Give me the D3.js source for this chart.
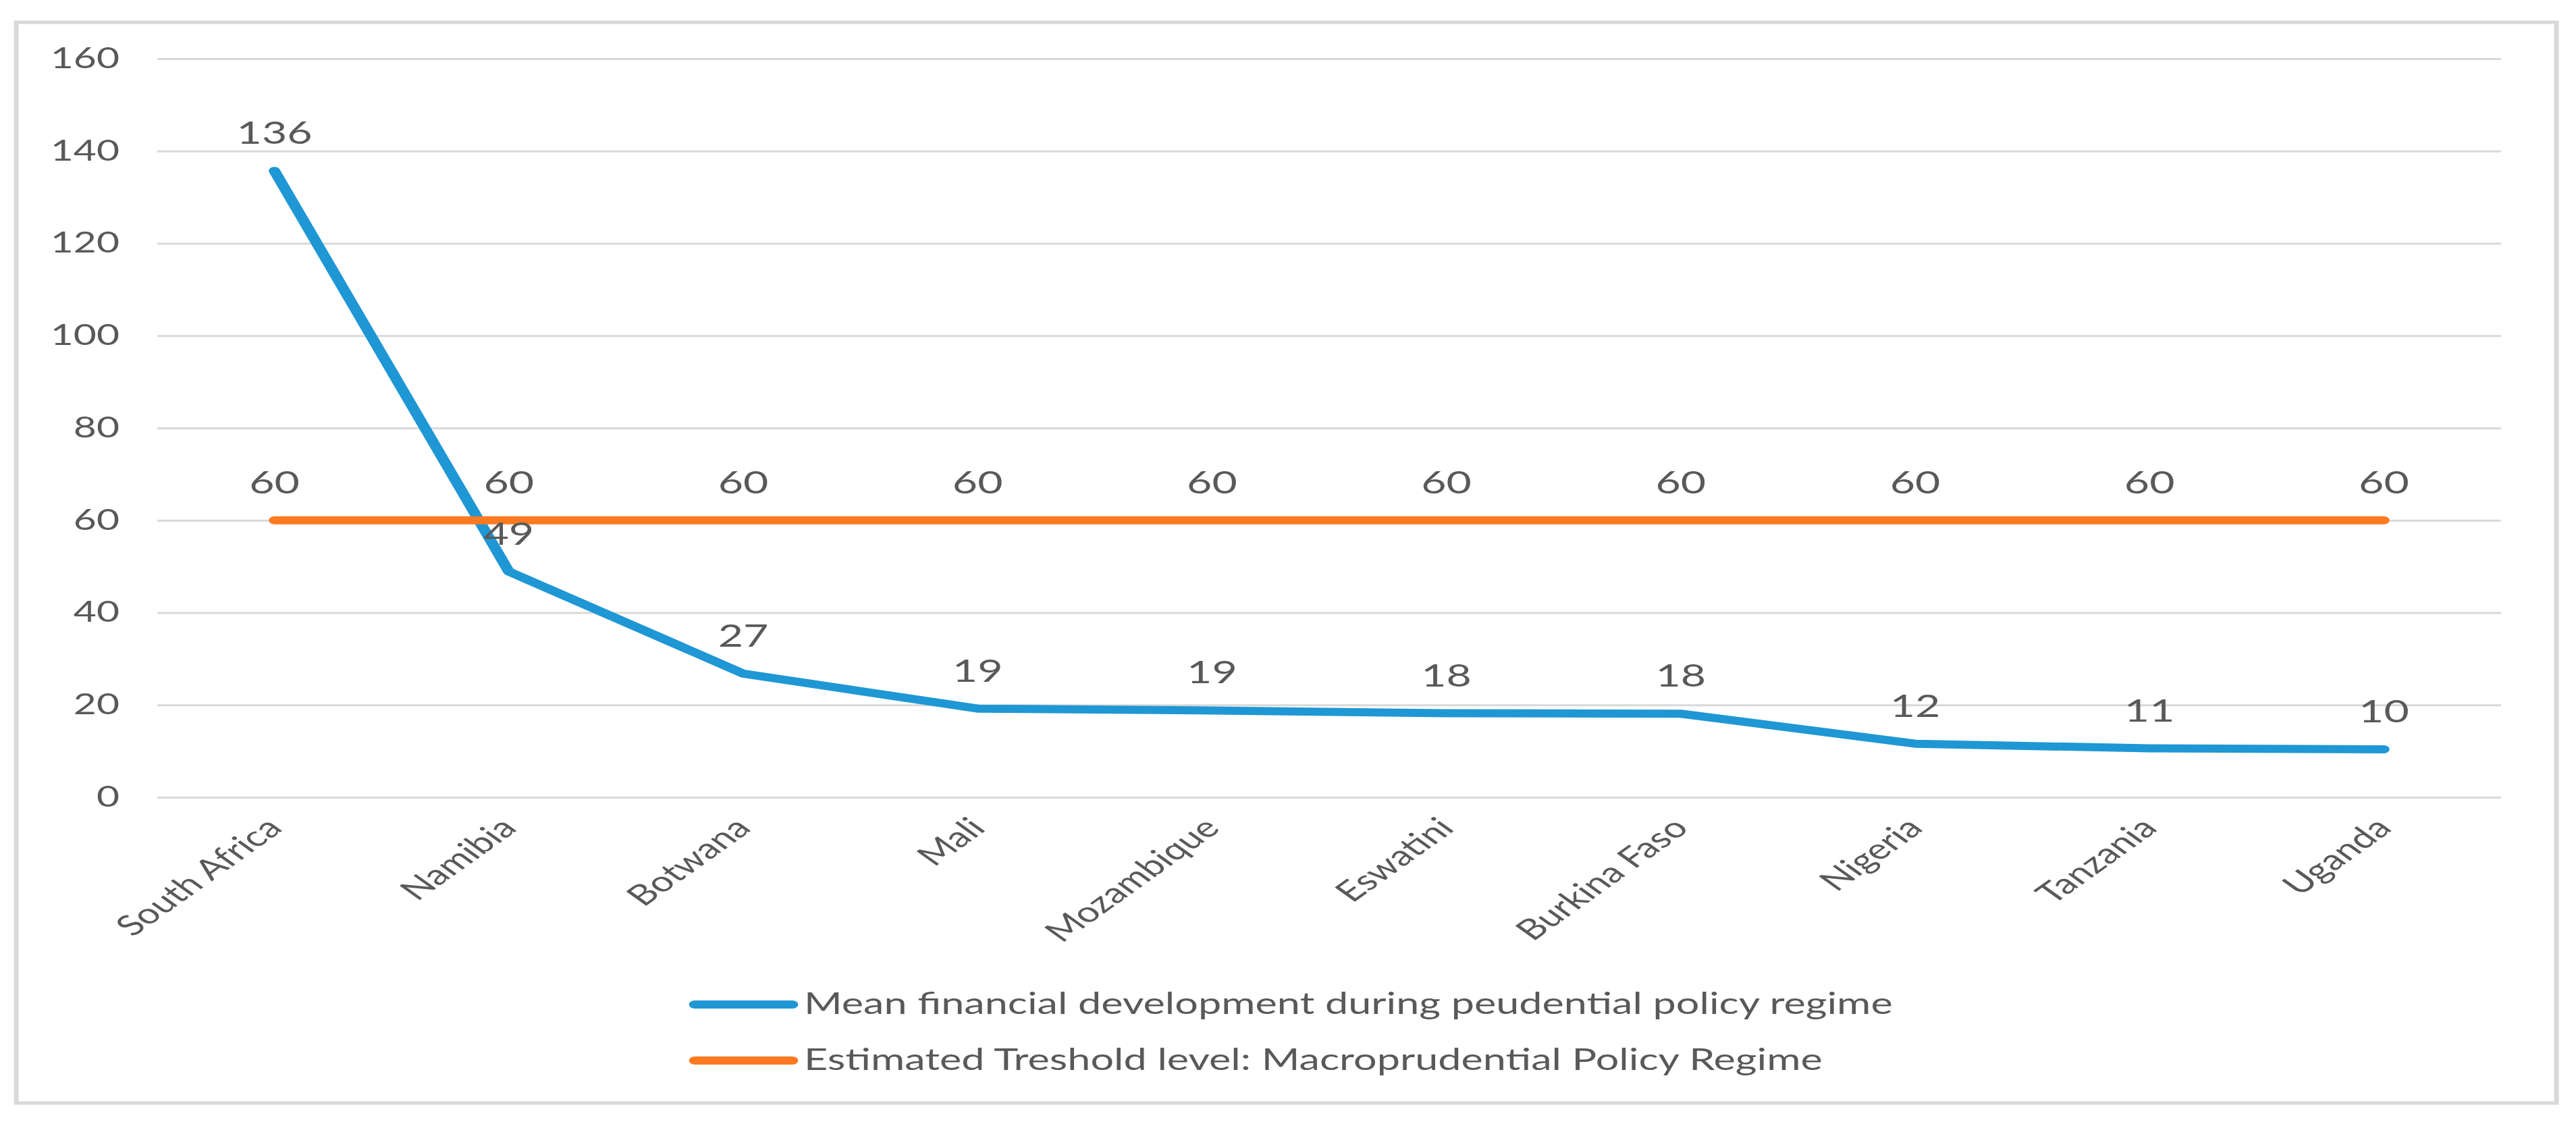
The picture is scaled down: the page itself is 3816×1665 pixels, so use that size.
<!DOCTYPE html>
<html>
<head>
<meta charset="utf-8">
<script src="https://cdn.jsdelivr.net/npm/d3@7"></script>
<style>
  body { margin: 0; background: #ffffff; }
  svg { display: block; }
  text { font-family: Lato, "Open Sans", sans-serif; fill: #595959; }
</style>
</head>
<body>
<svg id="chart"></svg>
<script>
//the reference picture is stretched sideways, so draw narrow and scale the whole group
let SX = 1.4
let outerWidth = 3816 / SX
let outerHeight = 1665

//data
let countries = ['South Africa', 'Namibia', 'Botwana', 'Mali', 'Mozambique', 'Eswatini', 'Burkina Faso', 'Nigeria', 'Tanzania', 'Uganda']
let meanFD = [135.7, 48.9, 26.8, 19.2, 18.8, 18.2, 18.1, 11.6, 10.6, 10.4]
let threshold = [60, 60, 60, 60, 60, 60, 60, 60, 60, 60]
let yTicks = [0, 20, 40, 60, 80, 100, 120, 140, 160]
let seriesNames = ['Mean financial development during peudential policy regime', 'Estimated Treshold level: Macroprudential Policy Regime']
let seriesColors = ['#1f97d4', '#fd7a21']

let margins = { top: 87, bottom: 1665 - 1181, left: 233 / SX, right: outerWidth - 3705 / SX }
let innerWidth = outerWidth - margins.left - margins.right
let innerHeight = outerHeight - margins.top - margins.bottom

let svg = d3.select('svg#chart')
  .attr('width', 3816)
  .attr('height', outerHeight)

let root = svg.append('g')
  .attr('transform', `scale(${SX},1)`)

//chart border
root.append('rect')
  .attr('x', 24 / SX)
  .attr('y', 33)
  .attr('width', (3787 - 24) / SX)
  .attr('height', 1634 - 33)
  .attr('fill', 'white')
  .attr('stroke', '#d9d9d9')
  .attr('stroke-width', 5)

let inner = root.append('g')
  .attr('transform', 'translate(' + margins.left + ',' + margins.top + ')')

let xScale = d3.scaleBand()
  .domain(countries)
  .range([0, innerWidth])

let yScale = d3.scaleLinear()
  .domain([0, 160])
  .range([innerHeight, 0])

//gridlines + y tick labels
let yAxis = d3.axisLeft(yScale)
  .tickValues(yTicks)
  .tickSize(-innerWidth)
  .tickPadding(40)

let yG = inner.append('g').attr('class', 'y axis').call(yAxis)
yG.select('.domain').remove()
yG.selectAll('line').attr('stroke', '#d9d9d9').attr('stroke-width', 3)
yG.selectAll('text')
  .attr('font-size', 42)
  .attr('fill', '#595959')
  .style('font-family', 'Lato, "Open Sans", sans-serif')

//category labels
inner.selectAll('text.cat')
  .data(countries)
  .enter()
  .append('text')
  .attr('class', 'cat')
  .attr('text-anchor', 'end')
  .attr('font-size', 42)
  .attr('transform', d => `translate(${xScale(d) + xScale.bandwidth() / 2 + 10}, ${innerHeight + 48}) rotate(-45)`)
  .text(d => d)

let cx = i => xScale(countries[i]) + xScale.bandwidth() / 2

let line = d3.line()
  .x((d, i) => cx(i))
  .y(d => yScale(d))

let series = [meanFD, threshold]

series.forEach((s, k) => {
  inner.append('path')
    .datum(s)
    .attr('d', line)
    .attr('fill', 'none')
    .attr('stroke', seriesColors[k])
    .attr('stroke-width', 12)
    .attr('stroke-linecap', 'round')
    .attr('stroke-linejoin', 'round')
})

//data labels
series.forEach((s, k) => {
  inner.selectAll('text.lab' + k)
    .data(s)
    .enter()
    .append('text')
    .attr('class', 'lab' + k)
    .attr('x', (d, i) => cx(i))
    .attr('y', d => yScale(d) - 40)
    .attr('text-anchor', 'middle')
    .attr('font-size', 46)
    .text(d => d3.format('.0f')(d))
})

//legend
let legend = root.append('g')
let legendY = [1488, 1571]
let legendTexts = []
seriesNames.forEach((name, k) => {
  legend.append('line')
    .attr('x1', 1029 / SX)
    .attr('x2', 1174 / SX)
    .attr('y1', legendY[k])
    .attr('y2', legendY[k])
    .attr('stroke', seriesColors[k])
    .attr('stroke-width', 12)
    .attr('stroke-linecap', 'round')
  legendTexts.push(legend.append('text')
    .attr('x', 1191 / SX)
    .attr('y', legendY[k] + 14)
    .attr('font-size', 40)
    .text(name))
})

//size legend font so the second entry ends where it does in the picture
let natural = legendTexts[1].node().getComputedTextLength()
let legendFont = 40 * ((2700 - 1191) / SX) / natural
legendTexts.forEach(t => t.attr('font-size', legendFont))
</script>
</body>
</html>
